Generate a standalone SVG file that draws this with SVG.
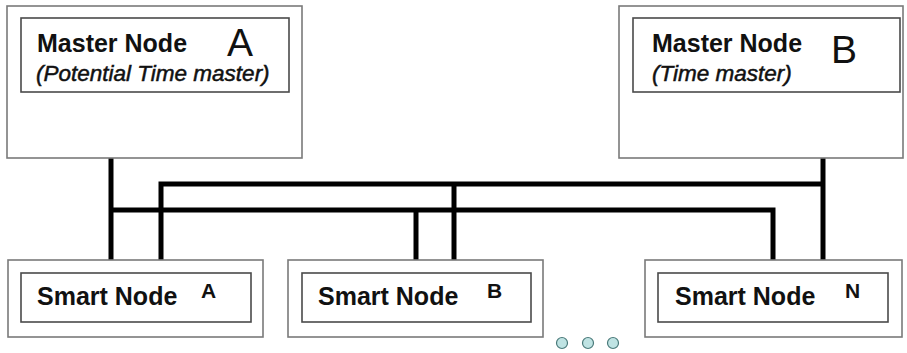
<svg xmlns="http://www.w3.org/2000/svg" width="907" height="353" viewBox="0 0 907 353">
<style>
.outer{fill:#fff;stroke:#7a7a7a;stroke-width:1.6}
.inner{fill:#fff;stroke:#4a4a4a;stroke-width:1.6}
.t{font-family:"Liberation Sans",Arial,sans-serif;fill:#111}
.b{font-weight:bold;font-size:25px}
.it{font-style:italic;font-size:22.5px;stroke:#111;stroke-width:0.5}
.big{font-size:39px}
.sm{font-weight:bold;font-size:21px}
.bus{fill:none;stroke:#000;stroke-width:5;stroke-linejoin:miter}
.dot{fill:#bfe3e3;stroke:#4a7a7a;stroke-width:1.2}
</style>
<rect width="907" height="353" fill="#fff"/>
<g id="connectors">
<path class="bus" d="M111,158 V260"/>
<path class="bus" d="M111,210 H773 V260"/>
<path class="bus" d="M823,158 V260"/>
<path class="bus" d="M161,260 V184 H823"/>
<path class="bus" d="M416,210 V260"/>
<path class="bus" d="M454,184 V260"/>
</g>
<g id="masterA">
<rect class="outer" x="7" y="6" width="295" height="152"/>
<rect class="inner" x="21" y="18" width="268" height="74"/>
<text class="t b" x="37" y="52">Master Node</text>
<text class="t big" x="227" y="56">A</text>
<text class="t it" x="36" y="81">(Potential Time master)</text>
</g>
<g id="masterB">
<rect class="outer" x="619" y="6" width="284" height="152"/>
<rect class="inner" x="633" y="18" width="267" height="74"/>
<text class="t b" x="652" y="52">Master Node</text>
<text class="t big" x="831" y="63">B</text>
<text class="t it" x="652" y="81">(Time master)</text>
</g>
<g id="smartA">
<rect class="outer" x="8" y="260" width="255" height="77"/>
<rect class="inner" x="21" y="273" width="230" height="49"/>
<text class="t b" x="37" y="305">Smart Node</text>
<text class="t sm" x="201" y="298">A</text>
</g>
<g id="smartB">
<rect class="outer" x="288" y="260" width="255" height="77"/>
<rect class="inner" x="302" y="273" width="229" height="49"/>
<text class="t b" x="318" y="305">Smart Node</text>
<text class="t sm" x="487" y="298">B</text>
</g>
<g id="smartN">
<rect class="outer" x="645" y="260" width="257" height="77"/>
<rect class="inner" x="658" y="273" width="230" height="49"/>
<text class="t b" x="675" y="305">Smart Node</text>
<text class="t sm" x="845" y="298">N</text>
</g>
<g id="ellipsis">
<circle class="dot" cx="562" cy="343" r="5.5"/>
<circle class="dot" cx="588" cy="343" r="5.5"/>
<circle class="dot" cx="613" cy="343" r="5.5"/>
</g>
</svg>
